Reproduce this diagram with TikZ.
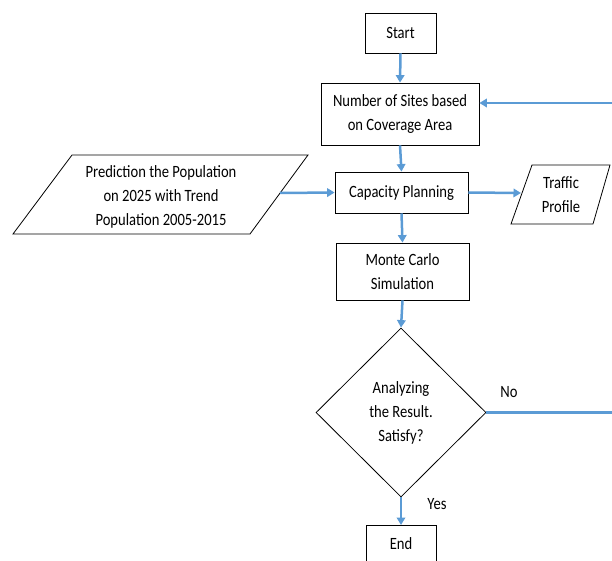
\documentclass[tikz,border=0pt]{standalone}
\usepackage{fontspec}
\setmainfont{Carlito}
\usetikzlibrary{arrows.meta,shapes.geometric}
\definecolor{flowblue}{RGB}{91,155,213}
\newcommand\tl[1]{\scalebox{1}[1.18]{#1}}
\tikzset{
  box/.style={draw=black, line width=0.8pt, fill=white, inner sep=0pt, align=center,
    font=\fontsize{14.6}{24}\selectfont},
  lbl/.style={inner sep=0pt, align=center, font=\fontsize{14.6}{24}\selectfont},
  flow/.style={draw=flowblue, line width=2.5pt, -{Triangle[length=7.5pt,width=8.5pt]}},
  flowplain/.style={draw=flowblue, line width=2.5pt},
  shapeline/.style={draw=black, line width=0.8pt}
}
\begin{document}
\begin{tikzpicture}[x=1pt,y=-1pt]
\useasboundingbox (0,0) rectangle (612,561);
\clip (0,0) rectangle (612,561);
% boxes
\node[box, minimum width=71pt, minimum height=40pt] (start) at (400.5,33) {\tl{Start}};
\node[box, minimum width=158pt, minimum height=62pt] (num) at (400,114) {\tl{Number of Sites based}\\\tl{on Coverage Area}};
\node[box, minimum width=133pt, minimum height=41pt] (cap) at (401.5,192.5) {\tl{Capacity Planning}};
\node[box, minimum width=133pt, minimum height=57pt] (mc) at (402.5,271.5) {\tl{Monte Carlo}\\\tl{Simulation}};
\node[box, diamond, aspect=1, minimum width=170pt, minimum height=169pt] (dia) at (401,412.5) {};
\node[lbl] (diatext) at (401,412.5) {\tl{Analyzing}\\\tl{the Result.}\\\tl{Satisfy?}};
\node[box, minimum width=70pt, minimum height=40pt, anchor=north] (end) at (401,525) {};
\node[lbl] (endtext) at (401,544) {\tl{End}};
% parallelograms
\draw[shapeline] (72,155) -- (308,155) -- (250,234) -- (13,234) -- cycle;
\node[lbl] (pred) at (161,197) {\tl{Prediction the Population}\\\tl{on 2025 with Trend}\\\tl{Population 2005-2015}};
\coordinate (predR) at (280,193);
\draw[shapeline] (532,165) -- (610,165) -- (593,224) -- (511,224) -- cycle;
\node[lbl] (traf) at (561,195) {\tl{Traffic}\\\tl{Profile}};
\coordinate (trafL) at (521,193);
% connectors
\draw[flow] (start.south) -- (num.north);
\draw[flow] (num.south) -- (cap.north);
\draw[flow] (cap.south) -- (mc.north);
\draw[flow] (mc.south) -- (dia.north);
\draw[flow] (dia.south) -- (end.north);
\draw[flow] (predR) -- (cap.west);
\draw[flow] (cap.east) -- (trafL);
\coordinate (fb1) at (618,412.5);
\coordinate (fb2) at (618,103);
\draw[flowplain] (dia.east) -- (fb1) -- (fb2);
\draw[flow] (fb2) -- (num.east |- fb2);
% labels
\node[lbl] (no) at (509,392) {\tl{No}};
\node[lbl] (yes) at (437,504) {\tl{Yes}};
\end{tikzpicture}
\end{document}
